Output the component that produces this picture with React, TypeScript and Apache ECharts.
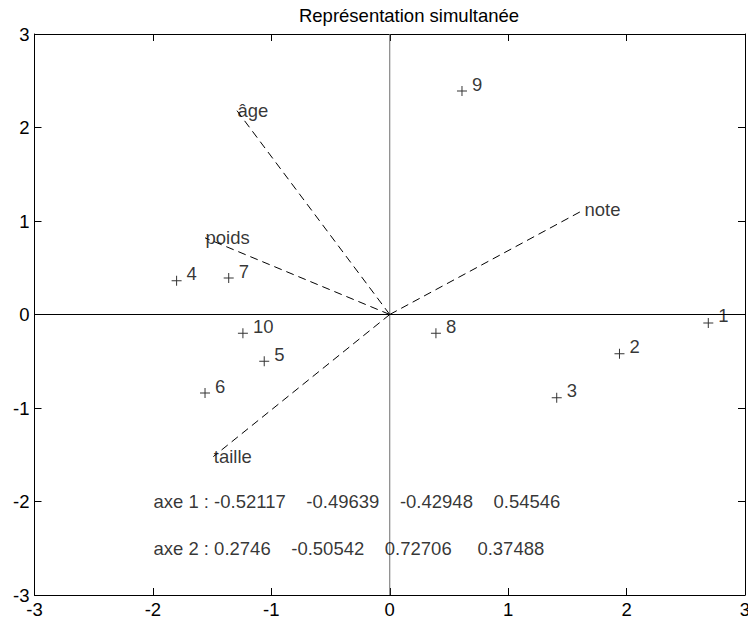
import React, { useEffect, useRef } from 'react';
import * as echarts from 'echarts';

const TITLE = 'Représentation simultanée';

// observations (individus)
const obsLabels = ['1', '2', '3', '4', '5', '6', '7', '8', '9', '10'];
const obsX = [2.69, 1.94, 1.41, -1.80, -1.06, -1.56, -1.36, 0.39, 0.61, -1.24];
const obsY = [-0.09, -0.42, -0.89, 0.36, -0.50, -0.84, 0.39, -0.20, 2.39, -0.20];

// variables (vector end points)
const varNames = ['poids', 'taille', 'âge', 'note'];
const varX = [-1.56, -1.49, -1.29, 1.64];
const varY = [0.82, -1.52, 2.18, 1.12];

// principal axes coefficients shown as text
const axe1 = ['-0.52117', '-0.49639', '-0.42948', '0.54546'];
const axe2 = ['0.2746', '-0.50542', '0.72706', '0.37488'];

const FONT = "'Liberation Sans', Arial, Helvetica, sans-serif";
const FS = 18.5;
const NB = '\u00A0';

export default function App() {
  const ref = useRef<HTMLDivElement>(null);

  useEffect(() => {
    if (!ref.current) return;
    const chart = echarts.init(ref.current, null, { renderer: 'svg' });

    const plus = 'path://M4.5,0H5.5V4.5H10V5.5H5.5V10H4.5V5.5H0V4.5H4.5Z';

    const axisCommon = {
      type: 'value' as const,
      min: -3,
      max: 3,
      interval: 1,
      splitLine: { show: false },
      axisLine: { show: true, onZero: false, lineStyle: { color: '#000', width: 1 } },
      axisTick: { show: true, inside: true, length: 7, lineStyle: { color: '#000', width: 1 } },
    };

    const labelStyle = { color: '#000', fontSize: FS, fontFamily: FONT };

    const vectorSeries = varNames.map((n, i) => ({
      type: 'line',
      name: n,
      data: [
        [0, 0],
        [varX[i], varY[i]],
      ],
      symbol: 'none',
      silent: true,
      z: 3,
      lineStyle: { color: '#000', width: 1, type: [8, 5] },
    }));

    const text1 = 'axe 1 : ' + axe1[0] + NB.repeat(4) + axe1[1] + NB.repeat(4) + axe1[2] + NB.repeat(4) + axe1[3];
    const text2 = 'axe 2 : ' + axe2[0] + NB.repeat(4) + axe2[1] + NB.repeat(4) + axe2[2] + NB.repeat(5) + axe2[3];

    chart.setOption({
      animation: false,
      backgroundColor: '#fff',
      textStyle: { fontFamily: FONT },
      graphic: [
        {
          type: 'text',
          x: 409,
          y: 15,
          style: {
            text: TITLE,
            fill: '#000',
            fontSize: FS,
            fontFamily: FONT,
            align: 'center',
            verticalAlign: 'middle',
          },
        },
      ],
      grid: { left: 34.5, right: 3, top: 34, bottom: 25, outerBoundsMode: 'none', containLabel: false },
      xAxis: [
        {
          ...axisCommon,
          position: 'bottom',
          axisLabel: { ...labelStyle, margin: 5, showMinLabel: true, showMaxLabel: true },
        },
        {
          ...axisCommon,
          position: 'top',
          axisLabel: { show: false },
        },
      ],
      yAxis: [
        {
          ...axisCommon,
          position: 'left',
          axisLabel: { ...labelStyle, margin: 5, showMinLabel: true, showMaxLabel: true },
        },
        {
          ...axisCommon,
          position: 'right',
          axisLabel: { show: false },
        },
      ],
      series: [
        {
          type: 'line',
          data: [
            [0, -3],
            [0, 3],
          ],
          symbol: 'none',
          silent: true,
          z: 1,
          lineStyle: { color: '#6e6e6e', width: 1 },
        },
        {
          type: 'line',
          data: [
            [-3, 0],
            [3, 0],
          ],
          symbol: 'none',
          silent: true,
          z: 1,
          lineStyle: { color: '#000', width: 1 },
        },
        ...vectorSeries,
        {
          type: 'scatter',
          name: 'variables',
          data: varNames.map((n, i) => ({ name: n, value: [varX[i], varY[i]] })),
          symbol: 'circle',
          symbolSize: 1,
          itemStyle: { color: 'transparent' },
          silent: true,
          z: 4,
          label: {
            show: true,
            position: 'right',
            distance: 0,
            formatter: (p: any) => p.name,
            ...labelStyle,
          },
        },
        {
          type: 'scatter',
          name: 'individus',
          data: obsLabels.map((n, i) => ({ name: n, value: [obsX[i], obsY[i]] })),
          symbol: plus,
          symbolSize: 10,
          itemStyle: { color: '#000' },
          silent: true,
          z: 5,
          label: {
            show: true,
            position: 'right',
            distance: 1,
            offset: [4, -7],
            formatter: (p: any) => p.name,
            ...labelStyle,
          },
        },
        {
          type: 'scatter',
          name: 'axes',
          data: [
            { name: text1, value: [-2, -2] },
            { name: text2, value: [-2, -2.5] },
          ],
          symbol: 'circle',
          symbolSize: 1,
          itemStyle: { color: 'transparent' },
          silent: true,
          z: 4,
          label: {
            show: true,
            position: 'right',
            distance: 0,
            formatter: (p: any) => p.name,
            ...labelStyle,
          },
        },
      ],
    });

    return () => {
      chart.dispose();
    };
  }, []);

  return (
    <div
      ref={ref}
      style={{ position: 'absolute', left: 0, top: 0, width: 748, height: 620, background: '#fff' }}
    />
  );
}
